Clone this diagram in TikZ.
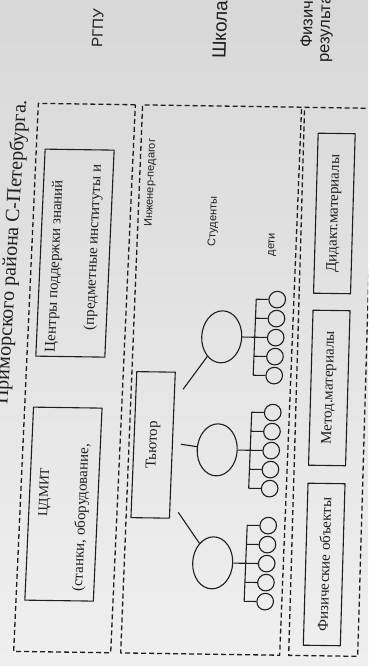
\documentclass[tikz,border=0pt]{standalone}
\usepackage{fontspec}
\setmainfont{Liberation Serif}
\newfontfamily\sansf{Liberation Sans}
\usetikzlibrary{shapes.geometric}
\definecolor{ink}{HTML}{1E1E1E}
\definecolor{paperA}{HTML}{D8D8D8}
\definecolor{paperB}{HTML}{EFEFEF}
\begin{document}
\begin{tikzpicture}[x=1pt,y=1pt,line join=round,
  dbox/.style={draw=ink,line width=1.3pt,dash pattern=on 5pt off 3pt,inner sep=0pt,anchor=south west},
  sbox/.style={draw=ink,line width=1.1pt,inner sep=0pt,text=ink,font=\fontsize{15}{18}\selectfont},
  stext/.style={inner sep=0pt,text=ink,font=\fontsize{15}{18}\selectfont,rotate=90},
  ltext/.style={inner sep=0pt,text=ink,font=\sansf\fontsize{11}{13}\selectfont,rotate=90},
  htext/.style={inner sep=0pt,text=ink,font=\sansf\fontsize{15}{18}\selectfont,rotate=90,anchor=west},
  ttext/.style={inner sep=0pt,text=ink,font=\fontsize{20}{24}\selectfont,rotate=89,anchor=base east},
  ell/.style={draw=ink,line width=1.1pt,ellipse,inner sep=0pt,minimum width=40pt,minimum height=52pt},
  smallc/.style={draw=ink,line width=1.1pt,circle,inner sep=0pt,minimum size=16.6pt},
  conn/.style={draw=ink,line width=1.1pt}]
\useasboundingbox (0,0) rectangle (368,666);
\shade[top color=paperA,bottom color=paperB] (0,0) rectangle (368,666);
\clip (0,0) rectangle (368,666);

% ---------- column 1 ----------
\begin{scope}[cm={1,-0.0145,0.045,1,(13pt,14pt)},transform shape]
  \node[ttext] (ttl) at (-11.5,552) {Приморского района С-Петербурга.};
  \node[htext] (rgpu) at (56.8,605) {РГПУ};
  \node[dbox,minimum width=97pt,minimum height=548pt] (b1) at (0,0) {};
  \node[sbox,minimum width=68.5pt,minimum height=193pt] (r1) at (43.75,148.5) {};
  \node[stext,anchor=center,font=\fontsize{13.5}{16}\selectfont] (r1a) at (25,160) {ЦДМИТ};
  \node[stext,anchor=west] (r1b) at (62.5,61) {(станки, оборудование,};
  \node[sbox,minimum width=69pt,minimum height=207pt] (r2) at (44,399.5) {};
  \node[stext,anchor=west] (r2a) at (24.7,300) {Центры поддержки знаний};
  \node[stext,anchor=west] (r2b) at (62.5,322.5) {(предметные институты и};
\end{scope}

% ---------- column 2 ----------
\begin{scope}[cm={1,-0.0145,0.040,1,(13pt,14pt)},transform shape]
  \node[htext,font=\sansf\fontsize{19}{22}\selectfont] (shk) at (182,596) {Школа};
  \node[dbox,minimum width=159pt,minimum height=548pt] (b2) at (107,0) {};
  \node[ltext] (ip) at (119,471) {Инженер-педагог};
  \node[ltext] (st) at (183,433) {Студенты};
  \node[ltext] (dt) at (243,411) {дети};
  \node[sbox,rotate=90,minimum width=146pt,minimum height=38.5pt] (tut) at (131.75,209) {Тьютор};
  \coordinate (t1) at (159.5,265);
  \coordinate (t2) at (159.5,210);
  \coordinate (t3) at (159.5,142);
  \foreach \g/\vv in {1/318,2/205,3/92}{
    \node[ell] (e\g) at (196,\vv) {};
    \foreach \k in {1,...,5}{
      \node[smallc] (c\g\k) at (250,{\vv+(3-\k)*19}) {};
      \draw[conn] (c\g\k.west) -- ++(-12.2,0);
    }
    \draw[conn] ([xshift=-12.2pt]c\g1.west) -- ([xshift=-12.2pt]c\g5.west);
    \draw[conn] (e\g) -- ([xshift=-12.2pt]c\g3.west);
  }
  \draw[conn] (t1) -- (e1);
  \draw[conn] (t2) -- (e2);
  \draw[conn] (t3) -- (e3);
\end{scope}

% ---------- column 3 ----------
\begin{scope}[cm={1,-0.0145,0.029,1,(13pt,14pt)},transform shape]
  \node[htext,font=\sansf\fontsize{16.5}{19}\selectfont] (fz) at (275.4,608) {Физические};
  \node[htext,font=\sansf\fontsize{16.5}{19}\selectfont] (rz) at (295.8,593.7) {результаты};
  \node[dbox,minimum width=69pt,minimum height=548pt] (b3) at (275,0) {};
  \node[sbox,rotate=90,minimum width=162pt,minimum height=37pt] (m1) at (308.5,92) {Физические объекты};
  \node[sbox,rotate=90,minimum width=155pt,minimum height=37pt] (m2) at (308.5,268.5) {Метод.материалы};
  \node[sbox,rotate=90,minimum width=160pt,minimum height=37pt] (m3) at (308.5,443) {Дидакт.материалы};
\end{scope}
\end{tikzpicture}
\end{document}
